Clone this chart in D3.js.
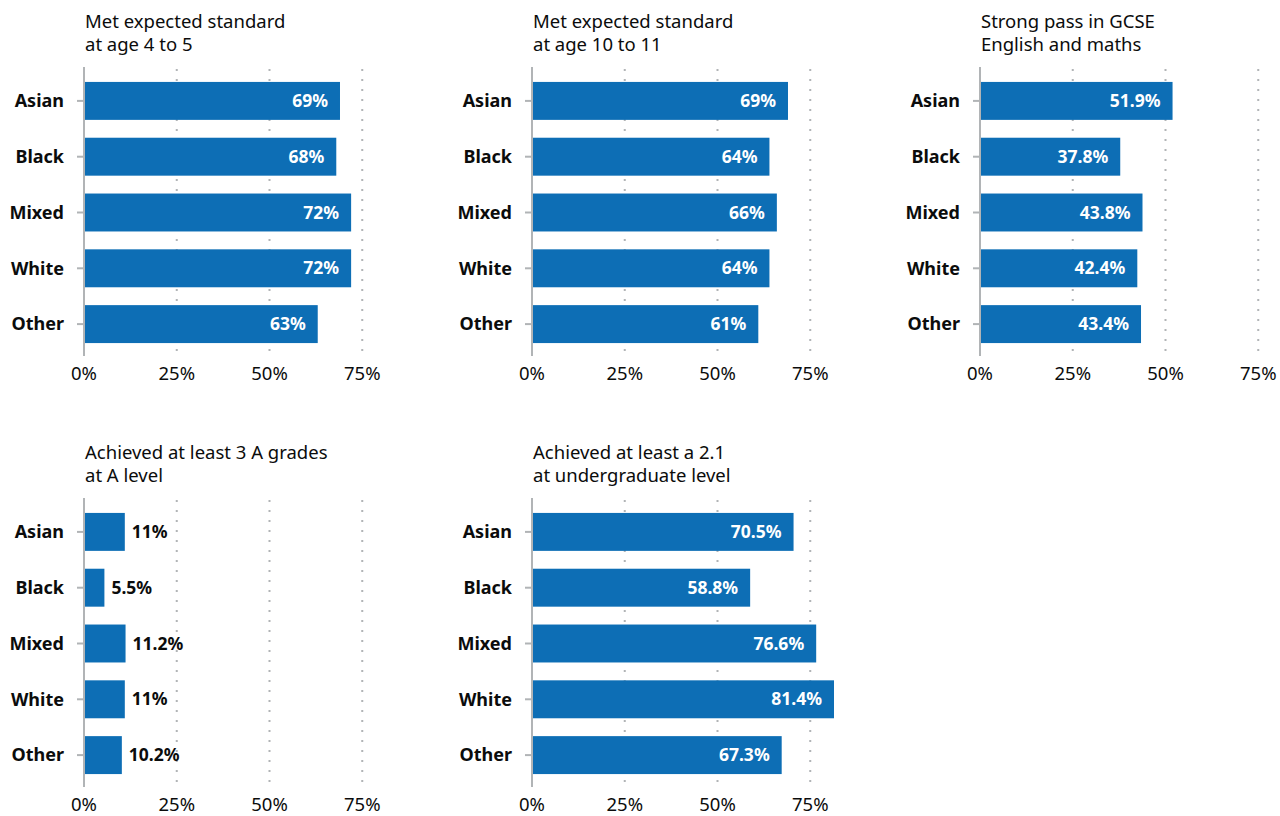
<!DOCTYPE html>
<html><head><meta charset="utf-8">
<script src="https://cdn.jsdelivr.net/npm/d3@7"></script>
<style>
body{margin:0;background:#fff;}
svg{display:block;font-family:"Noto Sans",sans-serif;}
</style></head><body>
<svg id="c" width="1280" height="816"></svg>
<script>
const categories = ["Asian","Black","Mixed","White","Other"];
const titles = [
  ["Met expected standard","at age 4 to 5"],
  ["Met expected standard","at age 10 to 11"],
  ["Strong pass in GCSE","English and maths"],
  ["Achieved at least 3 A grades","at A level"],
  ["Achieved at least a 2.1","at undergraduate level"]
];
const age4to5 = [69,68,72,72,63];
const age10to11 = [69,64,66,64,61];
const gcse = [51.9,37.8,43.8,42.4,43.4];
const aLevel = [11,5.5,11.2,11,10.2];
const degree = [70.5,58.8,76.6,81.4,67.3];
const labels4to5 = ["69%","68%","72%","72%","63%"];
const labels10to11 = ["69%","64%","66%","64%","61%"];
const labelsGcse = ["51.9%","37.8%","43.8%","42.4%","43.4%"];
const labelsALevel = ["11%","5.5%","11.2%","11%","10.2%"];
const labelsDegree = ["70.5%","58.8%","76.6%","81.4%","67.3%"];
const tickValues = [0,25,50,75];

const panels = [
  {values:age4to5, labels:labels4to5, col:0,row:0},
  {values:age10to11, labels:labels10to11, col:1,row:0},
  {values:gcse, labels:labelsGcse, col:2,row:0},
  {values:aLevel, labels:labelsALevel, col:0,row:1},
  {values:degree, labels:labelsDegree, col:1,row:1}
];

const svg = d3.select("#c");
const blue = "#0d6eb5", grey = "#b1b4b6", ink = "#0b0c0c";
const x = d3.scaleLinear().domain([0,100]).range([0,371]);
const y = d3.scaleBand().domain(categories).range([73,352]).paddingInner(0.32).paddingOuter(0.16);

panels.forEach((p,i)=>{
  const g = svg.append("g").attr("transform",`translate(${84+p.col*448},${p.row*431})`);
  const t = g.append("text").attr("x",1).attr("y",28).attr("fill",ink).style("font-size","18.5px");
  titles[i].forEach((line,j)=>t.append("tspan").attr("x",1).attr("dy",j?23:0).text(line));
  g.selectAll(".grid").data(tickValues.slice(1)).join("line")
    .attr("x1",d=>x(d)).attr("x2",d=>x(d)).attr("y1",67).attr("y2",356)
    .attr("stroke",grey).attr("stroke-width",2).attr("stroke-dasharray","2 8").attr("stroke-dashoffset",-2);
  g.selectAll(".xt").data(tickValues).join("text")
    .attr("x",d=>x(d)).attr("y",380).attr("text-anchor","middle").attr("fill",ink)
    .style("font-size","18.5px").text(d=>d+"%");
  g.selectAll(".bar").data(p.values).join("rect")
    .attr("x",1).attr("y",(d,k)=>y(categories[k]))
    .attr("width",d=>x(d)-1).attr("height",y.bandwidth()).attr("fill",blue);
  g.append("line").attr("x1",0).attr("x2",0).attr("y1",67).attr("y2",356).attr("stroke",grey).attr("stroke-width",2);
  g.selectAll(".yt").data(categories).join("line")
    .attr("x1",-7).attr("x2",0).attr("y1",d=>y(d)+y.bandwidth()/2).attr("y2",d=>y(d)+y.bandwidth()/2)
    .attr("stroke",grey).attr("stroke-width",2);
  g.selectAll(".yl").data(categories).join("text")
    .attr("x",-20).attr("y",d=>y(d)+y.bandwidth()/2).attr("dy","0.35em").attr("text-anchor","end")
    .attr("fill",ink).style("font-size","18px").style("font-weight","bold").text(d=>d);
  g.selectAll(".vl").data(p.values).join("text")
    .each(function(d,k){
      const el = d3.select(this);
      el.attr("y",y(categories[k])+y.bandwidth()/2).attr("dy","0.35em")
        .style("font-size","17.5px").style("font-weight","bold").text(p.labels[k]);
      const w = this.getComputedTextLength();
      if (x(d) > w + 24) {
        el.attr("x",x(d)-12).attr("text-anchor","end").attr("fill","#fff");
      } else {
        el.attr("x",x(d)+7).attr("text-anchor","start").attr("fill",ink);
      }
    });
});
</script>
</body></html>
